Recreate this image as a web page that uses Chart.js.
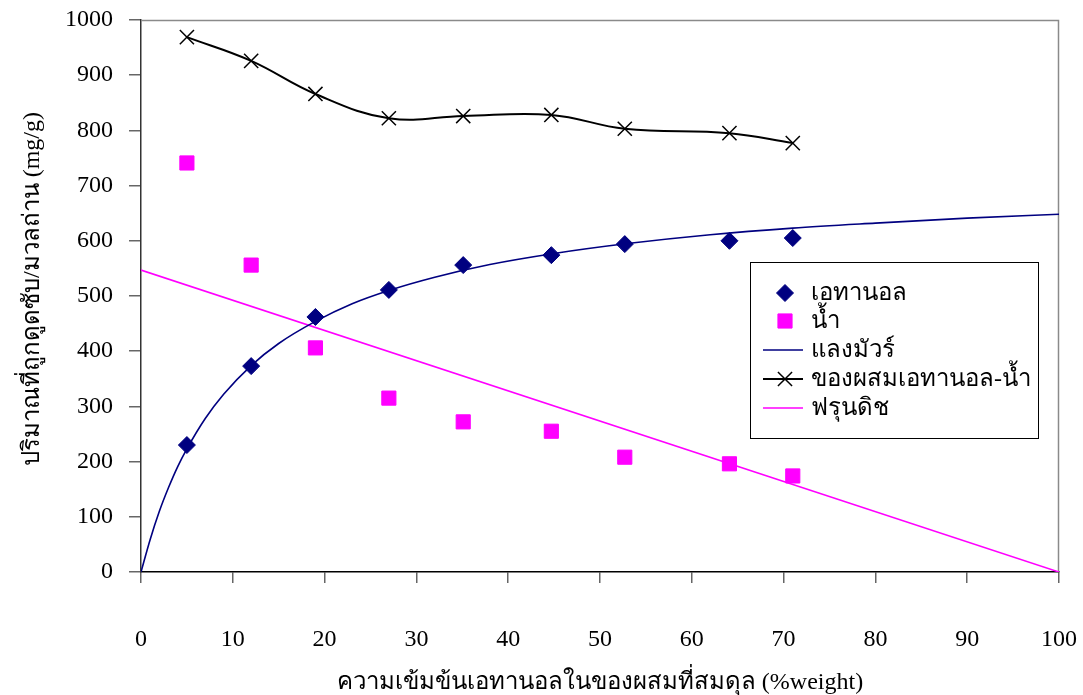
<!DOCTYPE html>
<html>
<head>
<meta charset="utf-8">
<script src="https://cdn.jsdelivr.net/npm/chart.js@4.4.0/dist/chart.umd.min.js"></script>
<style>
  html, body { margin: 0; padding: 0; background: #ffffff; }
  #wrap { width: 1083px; height: 695px; }
</style>
</head>
<body>
<div id="wrap"><canvas id="c" width="1083" height="695"></canvas></div>
<script>
// Equilibrium ethanol concentration in the mixture (%weight)
const concentration = [5.0, 12.0, 19.0, 27.0, 35.1, 44.7, 52.7, 64.1, 71.0];
// Uptake per gram of carbon (mg/g)
const ethanolUptake = [230, 373, 462, 511, 556, 574, 594, 600, 605];
const waterUptake   = [741, 556, 406, 315, 272, 255, 208, 196, 174];
const mixtureUptake = [969, 926, 866, 822, 826, 828, 803, 795, 777];
// Langmuir isotherm curve
const langmuirX = [0, 1, 2, 3, 4, 5, 7, 9, 12, 15, 19, 23, 27, 32, 38, 45, 53, 62, 71, 80, 90, 100];
const langmuirY = [0, 59, 110, 153, 191, 223, 278, 322, 374, 414, 454, 486, 510, 534, 557, 577, 595, 611, 623, 632, 641, 648];
// Freundlich line
const freundlichX = [0, 100];
const freundlichY = [547, 0];
// Axis tick values
const xTickValues = [0, 10, 20, 30, 40, 50, 60, 70, 80, 90, 100];
const yTickValues = [0, 100, 200, 300, 400, 500, 600, 700, 800, 900, 1000];

const seriesNames = ['เอทานอล', 'น้ำ', 'แลงมัวร์', 'ของผสมเอทานอล-น้ำ', 'ฟรุนดิช'];
const xTitle = 'ความเข้มข้นเอทานอลในของผสมที่สมดุล (%weight)';
const yTitle = 'ปริมาณที่ถูกดูดซับ/มวลถ่าน (mg/g)';

const FONT = '"Liberation Serif", "Times New Roman", serif';
const NAVY = '#000080';
const MAGENTA = '#ff00ff';

const pairs = (xs, ys) => xs.map((x, i) => ({ x: x, y: ys[i] }));

// Gray frame on the top and right of the plot area
const framePlugin = {
  id: 'frame',
  beforeDatasetsDraw(chart) {
    const { ctx, chartArea: a } = chart;
    ctx.save();
    ctx.strokeStyle = '#8a8a8a';
    ctx.lineWidth = 1.5;
    ctx.beginPath();
    ctx.moveTo(a.left, a.top + 0.5);
    ctx.lineTo(a.right - 0.5, a.top + 0.5);
    ctx.lineTo(a.right - 0.5, a.bottom);
    ctx.stroke();
    ctx.restore();
  }
};

// Axis titles
const titlePlugin = {
  id: 'axisTitles',
  afterDraw(chart) {
    const { ctx, chartArea: a } = chart;
    ctx.save();
    ctx.fillStyle = '#000';
    ctx.font = '24px ' + FONT;
    ctx.textAlign = 'center';
    ctx.textBaseline = 'alphabetic';
    ctx.fillText(xTitle, (a.left + a.right) / 2, 689);
    ctx.translate(39, 289);
    ctx.rotate(-Math.PI / 2);
    ctx.fillText(yTitle, 0, 0);
    ctx.restore();
  }
};

// Legend box inside the plot area
const legendPlugin = {
  id: 'boxLegend',
  afterDatasetsDraw(chart) {
    const { ctx } = chart;
    const bx = 750, by = 262, bw = 288, bh = 176;
    ctx.save();
    ctx.fillStyle = '#ffffff';
    ctx.fillRect(bx, by, bw, bh);
    ctx.strokeStyle = '#000';
    ctx.lineWidth = 1;
    ctx.strokeRect(bx + 0.5, by + 0.5, bw, bh);
    const rowY = [293, 321, 350, 379, 408];
    const symX = 785;
    chart.data.datasets.forEach((ds, i) => {
      const y = rowY[i];
      if (ds.showLine !== false) {
        ctx.strokeStyle = ds.borderColor;
        ctx.lineWidth = ds.borderWidth;
        ctx.beginPath();
        ctx.moveTo(763, y);
        ctx.lineTo(803, y);
        ctx.stroke();
      }
      if (ds.pointRadius > 0) {
        ctx.fillStyle = ds.backgroundColor;
        ctx.strokeStyle = ds.borderColor;
        ctx.lineWidth = ds.pointBorderWidth || 1;
        Chart.helpers.drawPoint(ctx, {
          pointStyle: ds.pointStyle,
          radius: ds.pointRadius,
          borderWidth: ds.pointBorderWidth || 1
        }, symX, y);
      }
      ctx.fillStyle = '#000';
      ctx.font = '24px ' + FONT;
      ctx.textAlign = 'left';
      ctx.textBaseline = 'middle';
      ctx.fillText(seriesNames[i], 811, y + 1);
    });
    ctx.restore();
  }
};

const noLabelPadding = s => {
  s.paddingLeft = 0; s.paddingRight = 0; s.paddingTop = 0; s.paddingBottom = 0;
};

new Chart(document.getElementById('c'), {
  type: 'scatter',
  data: {
    datasets: [
      {
        label: seriesNames[0],
        data: pairs(concentration, ethanolUptake),
        showLine: false,
        pointStyle: 'rectRot',
        pointRadius: 8.5,
        backgroundColor: NAVY,
        borderColor: NAVY,
        pointBorderWidth: 1,
        order: 1
      },
      {
        label: seriesNames[1],
        data: pairs(concentration, waterUptake),
        showLine: false,
        pointStyle: 'rect',
        pointRadius: 10,
        backgroundColor: MAGENTA,
        borderColor: MAGENTA,
        pointBorderWidth: 1,
        order: 2
      },
      {
        label: seriesNames[2],
        data: pairs(langmuirX, langmuirY),
        showLine: true,
        pointRadius: 0,
        borderColor: NAVY,
        borderWidth: 1.6,
        cubicInterpolationMode: 'monotone',
        order: 3
      },
      {
        label: seriesNames[3],
        data: pairs(concentration, mixtureUptake),
        showLine: true,
        pointStyle: 'crossRot',
        pointRadius: 10,
        pointBorderWidth: 1.5,
        borderColor: '#000000',
        backgroundColor: '#000000',
        borderWidth: 2,
        tension: 0.4,
        order: 4
      },
      {
        label: seriesNames[4],
        data: pairs(freundlichX, freundlichY),
        showLine: true,
        pointRadius: 0,
        borderColor: MAGENTA,
        borderWidth: 1.6,
        order: 5
      }
    ]
  },
  options: {
    responsive: false,
    animation: false,
    devicePixelRatio: 1,
    layout: { padding: { top: 20, right: 24, left: 0, bottom: 0 } },
    plugins: {
      legend: { display: false },
      tooltip: { enabled: false }
    },
    scales: {
      x: {
        type: 'linear',
        min: 0,
        max: 100,
        afterFit: s => { s.height = 123; noLabelPadding(s); },
        afterBuildTicks: s => { s.ticks = xTickValues.map(v => ({ value: v })); },
        grid: { drawOnChartArea: false, drawTicks: true, tickLength: 11, color: '#666', lineWidth: 1.5 },
        border: { color: '#000', width: 1.5 },
        ticks: { color: '#000', font: { family: FONT, size: 24 }, padding: 42, maxRotation: 0, callback: v => String(v) }
      },
      y: {
        type: 'linear',
        min: 0,
        max: 1000,
        afterFit: s => { s.width = 141; noLabelPadding(s); },
        afterBuildTicks: s => { s.ticks = yTickValues.map(v => ({ value: v })); },
        grid: { drawOnChartArea: false, drawTicks: true, tickLength: 12, color: '#666', lineWidth: 1.5 },
        border: { color: '#333', width: 1.5 },
        ticks: { color: '#000', font: { family: FONT, size: 24 }, padding: 16, callback: v => String(v) }
      }
    }
  },
  plugins: [framePlugin, legendPlugin, titlePlugin]
});
</script>
</body>
</html>
